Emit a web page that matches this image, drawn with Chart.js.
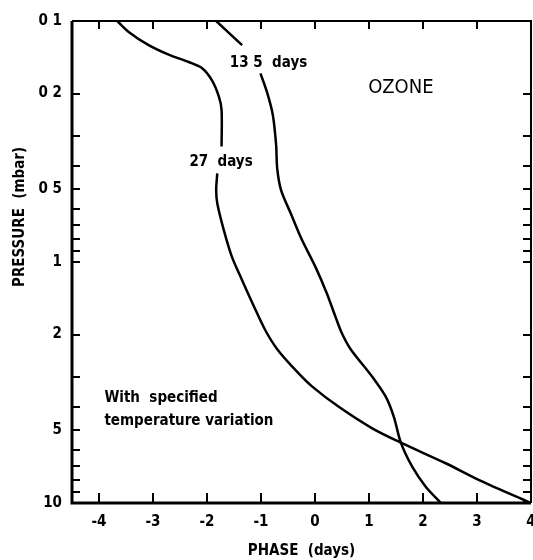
<!DOCTYPE html>
<html>
<head>
<meta charset="utf-8">
<script src="https://cdn.jsdelivr.net/npm/chart.js@4.4.0/dist/chart.umd.min.js"></script>
<style>
  html, body { margin: 0; padding: 0; background: #fff; }
</style>
</head>
<body>
<canvas id="chart" width="533" height="560"></canvas>
<script>
// ======================
// DATA
// ======================
// 27 days curve (null = gap where the label sits)
const phase27 = [-3.66, -3.45, -3.08, -2.71, -2.34, -2.09, -1.91, -1.78, -1.73, -1.73, null,
  -1.81, -1.83, -1.81, -1.69, -1.54, -1.35, -1.13, -0.92, -0.70, -0.36, -0.05, 0.44, 1.06, 1.59, 2.42, 3.04, 4.0];
const pressure27 = [0.1, 0.111, 0.126, 0.138, 0.148, 0.157, 0.176, 0.206, 0.234, 0.332, null,
  0.429, 0.502, 0.571, 0.736, 0.950, 1.19, 1.53, 1.92, 2.30, 2.81, 3.29, 3.99, 4.90, 5.62, 6.84, 8.03, 10];

// 13.5 days curve
const phase135 = [-1.83, -1.35, null, -1.01, -0.89, -0.78, -0.72, -0.70, -0.63, -0.45, -0.24, 0.01,
  0.22, 0.38, 0.50, 0.66, 1.06, 1.31, 1.46, 1.59, 1.80, 2.05, 2.33];
const pressure135 = [0.1, 0.126, null, 0.165, 0.197, 0.246, 0.327, 0.409, 0.502, 0.628, 0.811, 1.05,
  1.35, 1.69, 1.98, 2.30, 2.99, 3.62, 4.39, 5.62, 7.07, 8.56, 10];

// axis ticks
const yMajor = [0.1, 0.2, 0.5, 1, 2, 5, 10];
const yMajorLabels = ["0 1", "0 2", "0 5", "1", "2", "5", "10"];
const yMinor = [0.3, 0.4, 0.6, 0.7, 0.8, 0.9, 3, 4, 6, 7, 8, 9];
const xTicks = [-4, -3, -2, -1, 0, 1, 2, 3, 4];

// text notes: [text, phase, pressure, align, weight, size]
const notes = [
  ["13 5  days", -0.86, 0.149, "center", "bold", 15],
  ["27  days", -1.74, 0.385, "center", "bold", 15],
  ["OZONE", 1.59, 0.190, "center", "normal", 20],
  ["With  specified", -3.9, 3.66, "left", "bold", 15],
  ["temperature variation", -3.9, 4.57, "left", "bold", 15]
];

const yTitle = "PRESSURE  (mbar)";
const FONT = '"DejaVu Sans Condensed", "DejaVu Sans", sans-serif';

const toPts = (xs, ys) => xs.map((x, i) => (x === null ? { x: null, y: null } : { x: x, y: ys[i] }));

// frame + inward ticks + notes
const framePlugin = {
  id: "framePlugin",
  afterDraw(chart) {
    const { ctx, chartArea: a, scales } = chart;
    const xs = scales.x, ys = scales.y;
    ctx.save();
    ctx.strokeStyle = "#000";
    ctx.lineCap = "butt";

    ctx.lineWidth = 3;
    ctx.beginPath();
    ctx.moveTo(a.left, a.top);
    ctx.lineTo(a.left, a.bottom);
    ctx.lineTo(a.right, a.bottom);
    ctx.stroke();

    ctx.lineWidth = 2;
    ctx.beginPath();
    ctx.moveTo(a.left, a.top);
    ctx.lineTo(a.right, a.top);
    ctx.lineTo(a.right, a.bottom);
    ctx.stroke();

    ctx.lineWidth = 2;
    ctx.beginPath();
    [...yMajor, ...yMinor].forEach(v => {
      const y = Math.round(ys.getPixelForValue(v));
      if (v !== 0.1 && v !== 10) {
        ctx.moveTo(a.left, y); ctx.lineTo(a.left + 8, y);
        ctx.moveTo(a.right, y); ctx.lineTo(a.right - 8, y);
      } else if (v === 10) {
        ctx.moveTo(a.right, y - 1); ctx.lineTo(a.right - 8, y - 1);
      }
    });
    xTicks.forEach(v => {
      const x = Math.round(xs.getPixelForValue(v));
      if (v === 4) return;
      ctx.moveTo(x, a.bottom); ctx.lineTo(x, a.bottom - 10);
      ctx.moveTo(x, a.top); ctx.lineTo(x, a.top + 8);
    });
    ctx.stroke();

    // y axis title (sits above centre in the original)
    ctx.fillStyle = "#000";
    ctx.font = `bold 15px ${FONT}`;
    ctx.textAlign = "center";
    ctx.textBaseline = "middle";
    ctx.translate(20, ys.getPixelForValue(0.65));
    ctx.rotate(-Math.PI / 2);
    ctx.fillText(yTitle, 0, 0);
    ctx.restore();
  },
  afterDatasetsDraw(chart) {
    const { ctx, scales } = chart;
    ctx.save();
    ctx.fillStyle = "#000";
    ctx.textBaseline = "middle";
    notes.forEach(([t, px, pr, align, weight, size]) => {
      ctx.font = `${weight} ${size}px ${FONT}`;
      ctx.textAlign = align;
      ctx.fillText(t, scales.x.getPixelForValue(px), scales.y.getPixelForValue(pr));
    });
    ctx.restore();
  }
};

const lineStyle = {
  showLine: true,
  borderColor: "#000",
  borderWidth: 2.5,
  pointRadius: 0,
  tension: 0.3,
  spanGaps: false
};

new Chart(document.getElementById("chart"), {
  type: "scatter",
  data: {
    datasets: [
      { data: toPts(phase27, pressure27), ...lineStyle },
      { data: toPts(phase135, pressure135), ...lineStyle }
    ]
  },
  options: {
    responsive: false,
    animation: false,
    devicePixelRatio: 1,
    layout: { padding: { top: 21, right: 2, left: 0, bottom: 0 } },
    plugins: { legend: { display: false }, tooltip: { enabled: false } },
    scales: {
      x: {
        type: "linear",
        min: -4.5,
        max: 4,
        grid: { display: false, drawTicks: false },
        border: { display: false },
        afterBuildTicks: s => { s.ticks = xTicks.map(v => ({ value: v })); },
        afterFit: s => { s.height = 57; s.paddingLeft = 0; s.paddingRight = 0; },
        ticks: {
          color: "#000",
          padding: 10,
          maxRotation: 0,
          font: { family: FONT, size: 15, weight: "bold" }
        },
        title: {
          display: true,
          text: "PHASE  (days)",
          color: "#000",
          padding: { top: 0, bottom: 0 },
          font: { family: FONT, size: 15, weight: "bold" }
        }
      },
      y: {
        type: "logarithmic",
        min: 0.1,
        max: 10,
        reverse: true,
        grid: { display: false, drawTicks: false },
        border: { display: false },
        afterBuildTicks: s => { s.ticks = yMajor.map(v => ({ value: v })); },
        afterFit: s => { s.width = 72; s.paddingTop = 0; s.paddingBottom = 0; },
        ticks: {
          color: "#000",
          padding: 10,
          font: { family: FONT, size: 15, weight: "bold" },
          callback: v => yMajorLabels[yMajor.indexOf(v)] ?? ""
        }
      }
    }
  },
  plugins: [framePlugin]
});
</script>
</body>
</html>
